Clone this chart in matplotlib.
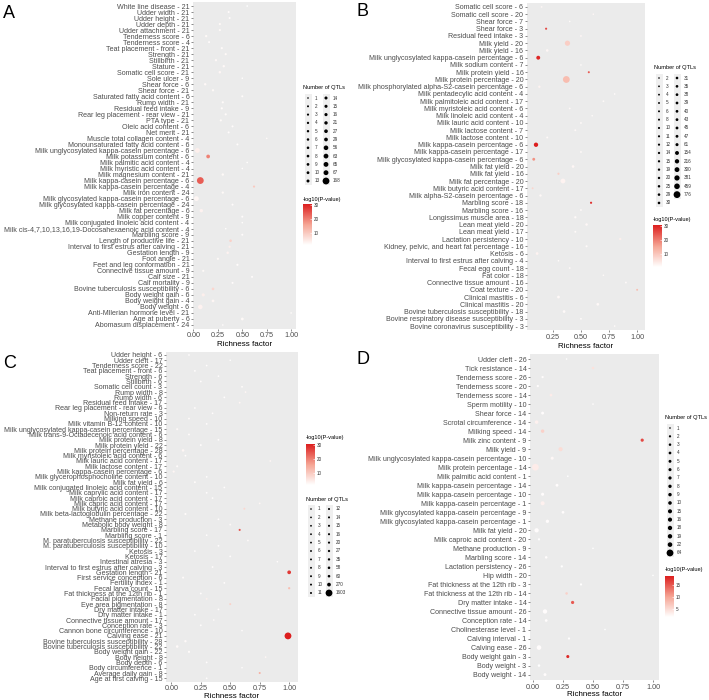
import numpy as np
import matplotlib
matplotlib.use("Agg")
import matplotlib.pyplot as plt
from matplotlib.colors import LinearSegmentedColormap, Normalize
from matplotlib.cm import ScalarMappable
from matplotlib.patches import Rectangle

plt.rcParams['font.family'] = ['Liberation Sans', 'DejaVu Sans']

# ---------------- data: panel A ----------------
a_terms = ["White line disease - 21", "Udder width - 21", "Udder height - 21", "Udder depth - 21",
           "Udder attachment - 21", "Tenderness score - 6", "Tenderness score - 4",
           "Teat placement - front - 21", "Strength - 21", "Stillbirth - 21", "Stature - 21",
           "Somatic cell score - 21", "Sole ulcer - 9", "Shear force - 6", "Shear force - 21",
           "Saturated fatty acid content - 6", "Rump width - 21", "Residual feed intake - 9",
           "Rear leg placement - rear view - 21", "PTA type - 21", "Oleic acid content - 6",
           "Net merit - 21", "Muscle total collagen content - 4",
           "Monounsaturated fatty acid content - 6", "Milk unglycosylated kappa-casein percentage - 6",
           "Milk potassium content - 6", "Milk palmitic acid content - 4",
           "Milk myristic acid content - 4", "Milk magnesium content - 21",
           "Milk kappa-casein percentage - 6", "Milk kappa-casein percentage - 4",
           "Milk iron content - 24", "Milk glycosylated kappa-casein percentage - 6",
           "Milk glycosylated kappa-casein percentage - 24", "Milk fat percentage - 6",
           "Milk copper content - 9", "Milk conjugated linoleic acid content - 4",
           "Milk cis-4,7,10,13,16,19-Docosahexaenoic acid content - 4", "Marbling score - 9",
           "Length of productive life - 21", "Interval to first estrus after calving - 21",
           "Gestation length - 9", "Foot angle - 21", "Feet and leg conformation - 21",
           "Connective tissue amount - 9", "Calf size - 21", "Calf mortality - 9",
           "Bovine tuberculosis susceptibility - 6", "Body weight gain - 6", "Body weight gain - 4",
           "Body weight - 6", "Anti-Mllerian hormone level - 21", "Age at puberty - 6",
           "Abomasum displacement - 24"]
a_rich = [0.55, 0.36, 0.37, 0.27, 0.27, 0.13, 0.16, 0.29, 0.33, 0.23, 0.31, 0.27, 0.50, 0.12,
          0.20, 0.50, 0.30, 0.29, 0.33, 0.28, 0.40, 0.36, 0.75, 0.45, 0.04, 0.15, 0.55, 0.50,
          0.30, 0.07, 0.62, 0.30, 0.03, 0.40, 0.08, 0.50, 0.50, 0.33, 0.50, 0.38, 0.37, 0.35,
          0.25, 0.45, 0.10, 0.60, 0.40, 0.20, 0.10, 0.20, 0.07, 1.00, 0.50, 0.30]
a_qtl = [1, 2, 2, 3, 3, 4, 2, 3, 3, 4, 5, 6, 1, 5, 4, 2, 3, 3, 3, 3, 2, 2, 1, 2, 67, 29, 1, 1,
         5, 168, 3, 4, 63, 2, 21, 2, 1, 1, 2, 7, 4, 6, 3, 3, 3, 2, 2, 8, 16, 9, 56, 1, 10, 1]
a_logp = [1.5, 2.0, 2.0, 2.5, 2.5, 2.5, 2.0, 2.3, 2.5, 2.6, 2.6, 2.8, 1.8, 2.6, 2.5, 2.2, 2.3,
          2.2, 2.3, 2.3, 2.0, 2.0, 2.4, 2.2, 4.0, 20, 1.8, 1.8, 2.5, 24, 10, 2.5, 3.0, 2.0, 3.5,
          2.0, 1.8, 1.8, 2.0, 9, 4, 3.5, 2.5, 2.2, 2.5, 2.0, 2.0, 8, 4, 3, 3.5, 2.2, 2.5, 2.0]
a_keys = [[1, 2, 3, 4, 5, 6, 7, 8, 9, 10, 13], [14, 15, 16, 21, 27, 29, 56, 63, 65, 67, 168]]

# ---------------- data: panel B ----------------
b_terms = ["Somatic cell score - 6", "Somatic cell score - 20", "Shear force - 7", "Shear force - 3",
           "Residual feed intake - 3", "Milk yield - 20", "Milk yield - 16",
           "Milk unglycosylated kappa-casein percentage - 6", "Milk sodium content - 7",
           "Milk protein yield - 16", "Milk protein percentage - 20",
           "Milk phosphorylated alpha-S2-casein percentage - 6", "Milk pentadecylic acid content - 4",
           "Milk palmitoleic acid content - 17", "Milk myristoleic acid content - 6",
           "Milk linoleic acid content - 4", "Milk lauric acid content - 10",
           "Milk lactose content - 7", "Milk lactose content - 10", "Milk kappa-casein percentage - 6",
           "Milk kappa-casein percentage - 17", "Milk glycosylated kappa-casein percentage - 6",
           "Milk fat yield - 20", "Milk fat yield - 16", "Milk fat percentage - 20",
           "Milk butyric acid content - 17", "Milk alpha-S2-casein percentage - 6",
           "Marbling score - 18", "Marbling score - 16", "Longissimus muscle area - 18",
           "Lean meat yield - 20", "Lean meat yield - 17", "Lactation persistency - 10",
           "Kidney, pelvic, and heart fat percentage - 16", "Ketosis - 6",
           "Interval to first estrus after calving - 4", "Fecal egg count - 18", "Fat color - 18",
           "Connective tissue amount - 16", "Coat texture - 20", "Clinical mastitis - 6",
           "Clinical mastitis - 20", "Bovine tuberculosis susceptibility - 18",
           "Bovine respiratory disease susceptibility - 3", "Bovine coronavirus susceptibility - 3"]
b_rich = [0.15, 0.61, 0.40, 0.19, 0.50, 0.38, 0.20, 0.12, 0.50, 0.57, 0.37, 0.13, 0.80, 0.70,
          0.40, 0.60, 0.50, 0.45, 0.20, 0.10, 0.50, 0.08, 0.43, 0.30, 0.34, 0.07, 0.14, 0.59,
          0.50, 0.45, 0.55, 0.45, 0.85, 0.55, 0.11, 0.30, 0.40, 0.70, 0.90, 1.00, 0.30, 0.65,
          0.35, 0.50, 0.80]
b_qtl = [3, 2, 2, 10, 3, 381, 30, 154, 2, 8, 776, 20, 2, 3, 3, 2, 4, 5, 6, 216, 4, 47, 35, 11,
         300, 5, 19, 12, 4, 14, 25, 6, 15, 8, 40, 2, 3, 2, 4, 5, 43, 39, 38, 3, 2]
b_logp = [2.5, 2.5, 1.8, 26, 2.5, 9, 2.5, 30, 1.8, 24, 12, 3, 1.8, 2, 2.2, 2, 2, 2.2, 2.2, 31,
          2.2, 18, 2.5, 9, 3, 8, 2.2, 29, 2, 2, 2.3, 2, 3.5, 2, 3, 1.8, 2, 2, 2, 12, 2.2, 2.2,
          2, 1.8, 1.8]
b_keys = [[2, 3, 4, 5, 6, 8, 10, 11, 12, 14, 15, 19, 20, 25, 29, 30],
          [31, 35, 38, 39, 40, 43, 45, 47, 61, 154, 216, 300, 381, 459, 776]]

# ---------------- data: panel C ----------------
c_terms = ["Udder height - 6", "Udder cleft - 17", "Tenderness score - 22",
           "Teat placement - front - 6", "Strength - 6", "Stillbirth - 6", "Somatic cell count - 3",
           "Rump width - 8", "Rump width - 6", "Residual feed intake - 17",
           "Rear leg placement - rear view - 6", "Non-return rate - 3", "Milking speed - 10",
           "Milk vitamin B-12 content - 10", "Milk unglycosylated kappa-casein percentage - 15",
           "Milk trans-9-Octadecenoic acid content - 6", "Milk protein yield - 8",
           "Milk protein yield - 22", "Milk protein percentage - 28",
           "Milk myristoleic acid content - 6", "Milk lauric acid content - 17",
           "Milk lactose content - 17", "Milk kappa-casein percentage - 6",
           "Milk glycerophosphocholine content - 10", "Milk fat yield - 6",
           "Milk conjugated linoleic acid content - 15", "Milk caprylic acid content - 17",
           "Milk caproic acid content - 17", "Milk capric acid content - 17",
           "Milk butyric acid content - 10", "Milk beta-lactoglobulin percentage - 22",
           "Methane production - 3", "Metabolic body weight - 8", "Marbling score - 17",
           "Marbling score - 1", "M. paratuberculosis susceptibility - 22",
           "M. paratuberculosis susceptibility - 10", "Ketosis - 3", "Ketosis - 17",
           "Intestinal atresia - 3", "Interval to first estrus after calving - 3",
           "Gestation length - 21", "First service conception - 6", "Fertility index - 1",
           "Fecal larva count - 15", "Fat thickness at the 12th rib - 1",
           "Facial pigmentation - 8", "Eye area pigmentation - 8", "Dry matter intake - 17",
           "Dry matter intake - 1", "Connective tissue amount - 17", "Conception rate - 3",
           "Cannon bone circumference - 10", "Calving ease - 21",
           "Bovine tuberculosis susceptibility - 28", "Bovine tuberculosis susceptibility - 22",
           "Body weight gain - 22", "Body height - 8", "Body depth - 6", "Body circumference - 1",
           "Average daily gain - 8", "Age at first calving - 15"]
c_rich = [0.15, 0.50, 0.30, 0.20, 0.40, 0.25, 0.60, 0.63, 0.45, 0.58, 0.20, 0.35, 0.15, 0.30,
          0.05, 0.15, 0.40, 0.25, 0.10, 0.12, 0.84, 0.05, 0.02, 0.30, 0.20, 0.45, 0.30, 0.35,
          0.75, 0.62, 0.12, 0.40, 0.50, 0.58, 0.30, 0.65, 0.40, 0.20, 0.50, 0.90, 0.35, 1.00,
          0.10, 0.45, 1.00, 0.25, 0.30, 0.50, 0.40, 0.20, 0.36, 0.25, 0.60, 0.99, 0.12, 0.05,
          0.15, 0.80, 0.30, 0.60, 0.75, 0.30]
c_qtl = [2, 1, 2, 3, 2, 3, 4, 2, 3, 4, 3, 2, 5, 3, 16, 5, 6, 7, 58, 3, 2, 12, 20, 2, 8, 2, 3,
         3, 2, 9, 14, 3, 4, 15, 2, 3, 4, 2, 3, 1, 4, 270, 11, 3, 27, 5, 6, 10, 4, 3, 2, 4, 1,
         1603, 35, 60, 20, 2, 3, 1, 12, 2]
c_logp = [2, 1.8, 2, 2, 2, 2, 2.2, 3, 2, 3, 2, 2, 2.2, 2, 2.5, 2.2, 2, 2, 3, 2, 3, 2.2, 3, 2,
          2.2, 2, 2, 2, 3, 8, 2.2, 2, 2.5, 25, 2, 2.5, 2, 2, 2, 2, 2, 28, 2.2, 2, 12, 2, 4, 9,
          2, 2, 2.5, 2, 2, 31, 2.5, 2.5, 2.2, 3, 2, 2, 14, 2]
c_keys = [[1, 2, 3, 4, 5, 6, 7, 8, 9, 10, 11], [12, 14, 15, 16, 20, 27, 35, 58, 60, 270, 1603]]

# ---------------- data: panel D ----------------
d_terms = ["Udder cleft - 26", "Tick resistance - 14", "Tenderness score - 26",
           "Tenderness score - 20", "Tenderness score - 14", "Sperm motility - 10",
           "Shear force - 14", "Scrotal circumference - 14", "Milking speed - 14",
           "Milk zinc content - 9", "Milk yield - 9",
           "Milk unglycosylated kappa-casein percentage - 10", "Milk protein percentage - 14",
           "Milk palmitic acid content - 1", "Milk kappa-casein percentage - 14",
           "Milk kappa-casein percentage - 10", "Milk kappa-casein percentage - 1",
           "Milk glycosylated kappa-casein percentage - 9",
           "Milk glycosylated kappa-casein percentage - 1", "Milk fat yield - 20",
           "Milk caproic acid content - 20", "Methane production - 9", "Marbling score - 14",
           "Lactation persistency - 26", "Hip width - 20", "Fat thickness at the 12th rib - 3",
           "Fat thickness at the 12th rib - 14", "Dry matter intake - 14",
           "Connective tissue amount - 26", "Conception rate - 14", "Cholinesterase level - 1",
           "Calving interval - 1", "Calving ease - 26", "Body weight gain - 3", "Body weight - 3",
           "Body weight - 14"]
d_rich = [0.28, 0.50, 0.08, 0.04, 0.15, 0.50, 0.08, 0.03, 0.08, 0.91, 0.23, 0.16, 0.02, 0.29,
          0.20, 0.08, 0.08, 0.25, 0.12, 0.03, 0.05, 0.50, 0.11, 0.24, 1.00, 0.40, 0.28, 0.33,
          0.10, 0.11, 0.60, 0.30, 0.05, 0.29, 0.05, 0.10]
d_qtl = [1, 3, 2, 2, 4, 1, 5, 10, 9, 7, 16, 6, 64, 1, 5, 6, 15, 4, 8, 18, 2, 1, 3, 2, 1, 2, 3,
         7, 19, 4, 1, 2, 22, 6, 3, 5]
d_logp = [1.8, 4.5, 2, 2, 3.5, 2, 2, 3, 6, 16, 5, 2.5, 3.5, 1.8, 2, 2, 3, 2, 2, 2, 1.8, 1.8,
          2, 1.8, 1.8, 1.8, 6, 15, 2, 2, 1.8, 1.8, 2, 18, 1.8, 2]
d_keys = [[1, 2, 3, 4, 5, 6, 7, 8, 9, 10, 15, 16, 18, 19, 22, 64]]

# ---------------- layout ----------------
W, H, DPI = 709, 700, 100
cmap = LinearSegmentedColormap.from_list("wr", ["#FFFFFF", "#F5A493", "#DC1E1E"])

fig = plt.figure(figsize=(W / DPI, H / DPI), dpi=DPI)
lay = fig.add_axes([0, 0, 1, 1])
lay.set_xlim(0, W)
lay.set_ylim(H, 0)
lay.axis('off')


def rect(l, t, r, b):
    return [l / W, 1 - b / H, (r - l) / W, (b - t) / H]


def dot_px(n, keys):
    allk = [k for col in keys for k in col]
    lo, hi = min(allk), max(allk)
    return 1.6 + 5.2 * np.sqrt((np.asarray(n, float) - lo) / (hi - lo))


def area(d):
    return (d * 72 / DPI) ** 2


def panel(box, terms, rich, qtl, logp, keys, vlim, xlim, xticks, tag, tagpos, lpad=1.5):
    ax = fig.add_axes(rect(*box))
    ax.set_facecolor('#EBEBEB')
    y = np.arange(len(terms))
    ax.scatter(rich, y, s=area(dot_px(qtl, keys)), c=logp, cmap=cmap,
               vmin=vlim[0], vmax=vlim[1], linewidths=0, zorder=3)
    ax.set_ylim(len(terms) - 0.4, -0.6)
    ax.set_yticks(y)
    ax.set_yticklabels(terms, fontsize=5.15, color='#4D4D4D')
    ax.set_xlim(*xlim)
    ax.set_xticks(xticks)
    ax.set_xticklabels([f'{t:.2f}' for t in xticks], fontsize=5.2, color='#4D4D4D')
    ax.set_xlabel('Richness factor', fontsize=5.8, labelpad=lpad)
    for s in ax.spines.values():
        s.set_visible(False)
    ax.tick_params(length=1.6, width=0.4, color='#333333', pad=1)
    lay.text(tagpos[0], tagpos[1], tag, fontsize=13, ha='left', va='center')
    return ax


def size_legend(x0, y0, keys, step):
    lay.text(x0, y0, 'Number of QTLs', fontsize=4.1, ha='left', va='center')
    for c, col in enumerate(keys):
        dx = x0 + 5 + c * 18
        ys = y0 + 10 + np.arange(len(col)) * step
        lay.add_patch(Rectangle((dx - 3.5, ys[0] - step / 2), 7, step * len(col),
                                color='#EFEFEF', lw=0, zorder=1))
        lay.scatter(np.full(len(col), dx), ys, s=area(dot_px(col, keys)), c='black',
                    linewidths=0, zorder=2)
        for v, yy in zip(col, ys):
            lay.text(dx + 6.5, yy, str(v), fontsize=3.3, color='#333333', ha='left', va='center')


def color_legend(x0, y0, top, bot, vlim, ticks):
    lay.text(x0, y0, '-log10(P-value)', fontsize=4.1, ha='left', va='center')
    cax = fig.add_axes(rect(x0, top, x0 + 9, bot))
    cb = fig.colorbar(ScalarMappable(Normalize(*vlim), cmap), cax=cax, ticks=ticks)
    cb.outline.set_visible(False)
    cax.tick_params(labelsize=3.3, length=1.5, width=0.4, color='white', direction='in',
                    pad=1.5, labelcolor='#333333')


ticks5 = [0, 0.25, 0.5, 0.75, 1.0]
panel((193, 2.4, 296, 328.6), a_terms, a_rich, a_qtl, a_logp, a_keys, (1.4, 31),
      (-0.005, 1.05), ticks5, 'A', (3, 13.5))
panel((527, 2.6, 645, 330.4), b_terms, b_rich, b_qtl, b_logp, b_keys, (1.0, 31),
      (0.02, 1.07), ticks5[1:], 'B', (357, 11.5))
panel((166, 351.8, 298, 681.5), c_terms, c_rich, c_qtl, c_logp, c_keys, (1.5, 31),
      (-0.045, 1.075), ticks5, 'C', (3, 363.5), lpad=0.6)
panel((530, 353.6, 659, 680), d_terms, d_rich, d_qtl, d_logp, d_keys, (1.7, 18.8),
      (-0.025, 1.05), ticks5, 'D', (357, 360), lpad=0.6)

size_legend(303, 88, a_keys, 8.3)
color_legend(303, 200, 204, 245, (1.4, 31), [10, 20, 30])
size_legend(654, 68, b_keys, 8.33)
color_legend(653, 220, 225, 267, (1.0, 31), [10, 20, 30])
color_legend(306, 438, 444, 485, (1.5, 31), [10, 20, 30])
size_legend(306, 499, c_keys, 8.4)
size_legend(665, 418, d_keys, 8.33)
color_legend(665, 570, 576, 617, (1.7, 18.8), [5, 10, 15])

fig.savefig('out.png', dpi=DPI)
